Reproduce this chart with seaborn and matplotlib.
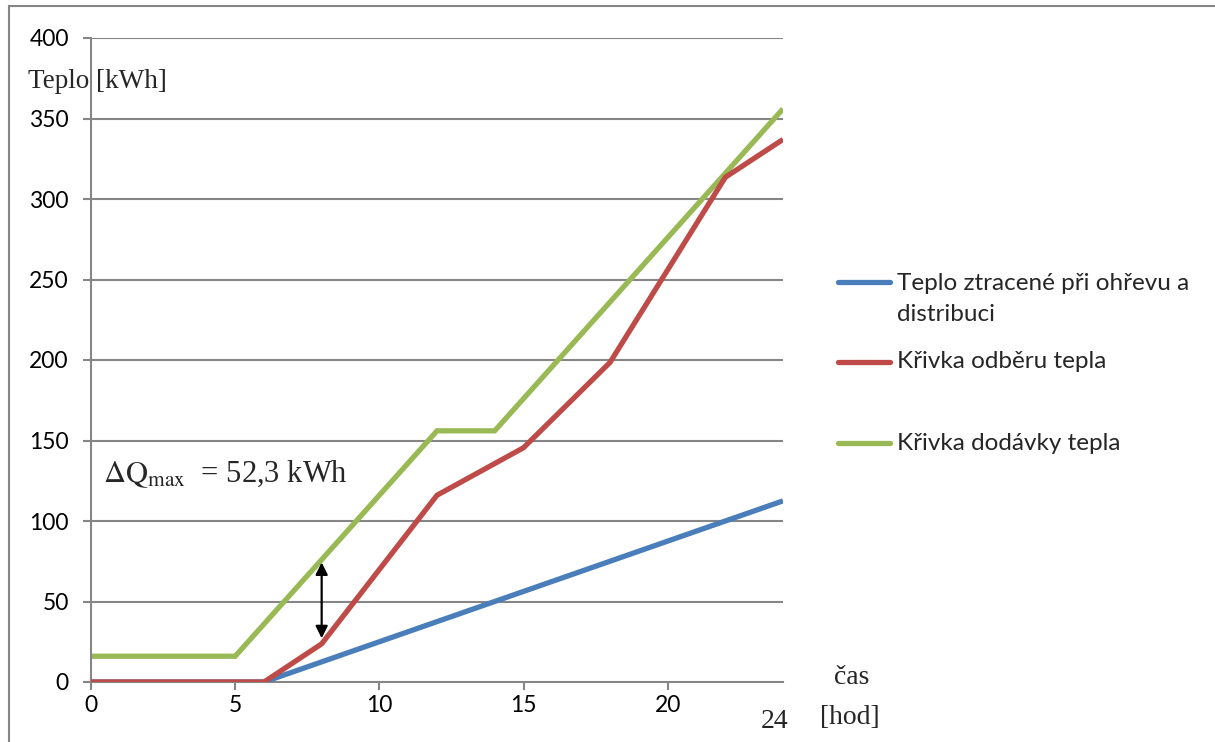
import matplotlib
matplotlib.use("Agg")
import matplotlib.pyplot as plt
from matplotlib.lines import Line2D
from matplotlib.patches import Rectangle
import pandas as pd
import seaborn as sns

# Heat balance over one day (hours vs. cumulative heat in kWh)
loss_hours = [0, 6, 24]
loss_heat = [0, 0, 112.5]

demand_hours = [0, 6, 8, 12, 15, 18, 22, 24]
demand_heat = [0, 0, 23.7, 116, 145.5, 198.5, 313.5, 337]

supply_hours = [0, 5, 12, 14, 24]
supply_heat = [16, 16, 156, 156, 356]

series_names = [
    "Teplo ztracené při ohřevu a\ndistribuci",
    "Křivka odběru tepla",
    "Křivka dodávky tepla",
]
series_colors = ["#4A7EBB", "#BE4B48", "#98B954"]

x_ticks = [0, 5, 10, 15, 20]
y_ticks = [0, 50, 100, 150, 200, 250, 300, 350, 400]

frames = []
for name, hx, hy in zip(series_names,
                        [loss_hours, demand_hours, supply_hours],
                        [loss_heat, demand_heat, supply_heat]):
    frames.append(pd.DataFrame({"hod": hx, "teplo": hy, "serie": name}))
df = pd.concat(frames, ignore_index=True)

sns.set_theme(style="white")
plt.rcParams["font.family"] = ["Lato", "DejaVu Sans"]
plt.rcParams["mathtext.fontset"] = "stix"

W, H = 1215, 742
fig = plt.figure(figsize=(W / 100, H / 100), dpi=100)
ax = fig.add_axes([91 / W, 1 - 682 / H, (783 - 91) / W, (682 - 38) / H])

grid_c = "#868686"
zorders = {series_names[0]: 3, series_names[1]: 4, series_names[2]: 2}
for name, color in zip(series_names, series_colors):
    sub = df[df["serie"] == name]
    sns.lineplot(data=sub, x="hod", y="teplo", color=color, lw=3.8,
                 sort=False, estimator=None, ax=ax, legend=False,
                 zorder=zorders[name])
for ln in ax.lines:
    ln.set_solid_capstyle("butt")
    ln.set_solid_joinstyle("miter")

ax.set_xlim(0, 24)
ax.set_ylim(0, 400)
ax.set_xticks(x_ticks)
ax.set_yticks(y_ticks)
ax.set_xlabel("")
ax.set_ylabel("")
for yv in y_ticks[1:]:
    ax.axhline(yv, color=grid_c, lw=1.5, zorder=1)
for side in ["top", "right"]:
    ax.spines[side].set_visible(False)
for side in ["left", "bottom"]:
    ax.spines[side].set_color(grid_c)
    ax.spines[side].set_linewidth(1.5)
ax.tick_params(axis="both", which="major", length=6, width=1.5,
               color=grid_c, labelsize=16.5, labelcolor="black")
ax.tick_params(axis="y", left=True, pad=10)
ax.tick_params(axis="x", bottom=True, pad=3)

# Difference arrow at 8 h
g8 = supply_heat[1] + (supply_heat[2] - supply_heat[1]) * (8 - 5) / (12 - 5)
r8 = demand_heat[2]
ax.annotate("", xy=(8, r8), xytext=(8, g8),
            arrowprops=dict(arrowstyle="<|-|>", color="black", lw=1.6,
                            mutation_scale=18, shrinkA=2, shrinkB=4),
            zorder=6)
ax.text(0.4, 129, r"$\Delta\mathrm{Q}_{\mathrm{max}}$  = " + f"{g8 - r8:.1f}".replace(".", ",") + " kWh",
        fontsize=22, family=["Liberation Serif"], va="center", ha="left",
        zorder=6)

serif = ["Liberation Serif", "DejaVu Serif"]
fig.text(28 / W, 1 - 82 / H, "Teplo [kWh]", fontsize=19.5, family=serif,
         va="center", ha="left")
fig.text(775 / W, 1 - 722 / H, "24", fontsize=20, family=serif,
         va="center", ha="center")
fig.text(852 / W, 1 - 677 / H, "čas", fontsize=20, family=serif,
         va="center", ha="center")
fig.text(850 / W, 1 - 717 / H, "[hod]", fontsize=20, family=serif,
         va="center", ha="center")

# Legend entries on the right
legend_rows = [282, 362, 443]
for name, color, yr in zip(series_names, series_colors, legend_rows):
    yf = 1 - yr / H
    fig.add_artist(Line2D([838 / W, 890 / W], [yf, yf], color=color, lw=3.8,
                          solid_capstyle="round"))
    if "\n" in name:
        fig.text(897 / W, 1 - 299 / H, name, fontsize=17.5, va="center",
                 ha="left", linespacing=1.55)
    else:
        fig.text(897 / W, yf, name, fontsize=17.5, va="center", ha="left")

# Outer chart frame
fig.add_artist(Rectangle((8.5 / W, -0.1), 1.2, 1 - 5.5 / H + 0.1,
                         transform=fig.transFigure, fill=False,
                         edgecolor=grid_c, lw=1.5))

fig.savefig("out.png", dpi=100)
